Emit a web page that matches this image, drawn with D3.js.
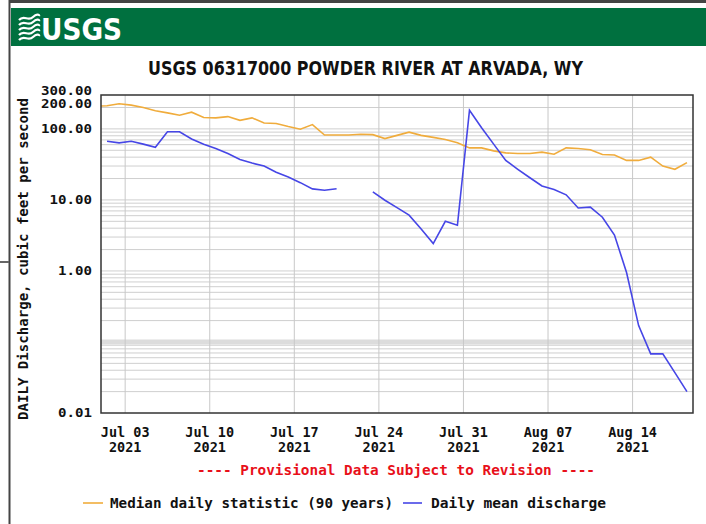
<!DOCTYPE html>
<html><head><meta charset="utf-8">
<script src="https://cdn.jsdelivr.net/npm/d3@7"></script>
<style>body{margin:0;background:#fff}svg{display:block}</style>
</head><body>
<svg id="c" width="706" height="524"></svg>
<script>
const dates = ["2021-06-30","2021-07-01","2021-07-02","2021-07-03","2021-07-04","2021-07-05","2021-07-06","2021-07-07","2021-07-08","2021-07-09","2021-07-10","2021-07-11","2021-07-12","2021-07-13","2021-07-14","2021-07-15","2021-07-16","2021-07-17","2021-07-18","2021-07-19","2021-07-20","2021-07-21","2021-07-22","2021-07-23","2021-07-24","2021-07-25","2021-07-26","2021-07-27","2021-07-28","2021-07-29","2021-07-30","2021-07-31","2021-08-01","2021-08-02","2021-08-03","2021-08-04","2021-08-05","2021-08-06","2021-08-07","2021-08-08","2021-08-09","2021-08-10","2021-08-11","2021-08-12","2021-08-13","2021-08-14","2021-08-15","2021-08-16","2021-08-17","2021-08-18"];
const medianValues = [208,212,226,216,200,180,168,156,172,145,143,149,132,143,121,119,108,99,115,82,82,82,84,83,73,81,90,81,76,71,64,54,54,49,46,45,45,47,44,54,53,51,43.5,43,36,36,40,30,27,33.5];
const dailyMeanValues = [null,67,63.5,67,61,55,91,91,72,61,53,45,37,33,30,24.5,21,17.5,14.3,13.7,14.4,null,null,13,9.9,7.8,6.1,3.9,2.43,5.0,4.4,183,104,61,36,27,20.5,15.7,14,11.8,7.7,7.9,5.7,3.2,0.95,0.17,0.068,0.068,0.037,0.02];
const xTickDates = ["2021-07-03","2021-07-10","2021-07-17","2021-07-24","2021-07-31","2021-08-07","2021-08-14"];
const xTickLabels = ["Jul 03","Jul 10","Jul 17","Jul 24","Jul 31","Aug 07","Aug 14"];
const yTickValues = [300,200,100,10,1,0.01];
const yTickLabels = ["300.00","200.00","100.00","10.00","1.00","0.01"];
const seriesNames = ["Median daily statistic (90 years)","Daily mean discharge"];

const svg = d3.select("#c");
const mono = "'DejaVu Sans Mono','Liberation Mono',monospace";
const orange = "#f0ac3c", blue = "#4646e6";
const parse = d3.timeParse("%Y-%m-%d");
const noon = s => d3.timeHour.offset(parse(s), 12);

const L=101, R=693, T=95, B=413;
const x = d3.scaleTime().domain([parse("2021-07-01"), parse("2021-08-19")]).range([L,R]);
const y = d3.scaleLog().domain([0.01,300]).range([B,T]);

// frame
svg.append("rect").attr("x",8).attr("y",0).attr("width",698).attr("height",524).attr("fill","#fff");
svg.append("line").attr("x1",9.5).attr("x2",9.5).attr("y1",0).attr("y2",524).attr("stroke","#444").attr("stroke-width",2);
svg.append("line").attr("x1",9).attr("x2",706).attr("y1",1.5).attr("y2",1.5).attr("stroke","#444").attr("stroke-width",3);
svg.append("line").attr("x1",0).attr("x2",9).attr("y1",262).attr("y2",262).attr("stroke","#666").attr("stroke-width",2);

// header
svg.append("rect").attr("x",11).attr("y",8).attr("width",695).attr("height",38).attr("fill","#00703f");
const logo = svg.append("g").attr("fill","none").attr("stroke","#fff").attr("stroke-width",2.2);
for (let i=0;i<5;i++){
  const yy = 17+i*5;
  logo.append("path").attr("d",`M19,${yy+3} C24,${yy-3} 28,${yy+5} 33,${yy} S38,${yy-1} 40,${yy-2}`);
}
svg.append("text").attr("x",41).attr("y",40).attr("fill","#fff")
  .style("font-family","'Liberation Sans Narrow','DejaVu Sans Condensed',Arial,sans-serif")
  .style("font-weight","bold").style("font-size","31px")
  .attr("textLength",81).attr("lengthAdjust","spacingAndGlyphs").text("USGS");

// title
svg.append("text").attr("x",148).attr("y",75)
  .style("font-family","'Liberation Sans Narrow','DejaVu Sans Condensed',Arial,sans-serif")
  .style("font-size","20px").style("font-weight","bold").attr("fill","#111")
  .attr("textLength",435).attr("lengthAdjust","spacingAndGlyphs")
  .text("USGS 06317000 POWDER RIVER AT ARVADA, WY");

// grid
const g = svg.append("g");
const minor = [];
[-2,-1,0,1,2].forEach(e=>{ for(let m=1;m<10;m++){ const v=m*Math.pow(10,e); if(v>0.01 && v<300) minor.push(v);} });
g.selectAll("line.h").data(minor).join("line")
  .attr("x1",L).attr("x2",R).attr("y1",d=>y(d)).attr("y2",d=>y(d))
  .attr("stroke", d=>Math.abs(d-0.1)<1e-9 ? "#dcdcdc" : "#cfcfcf")
  .attr("stroke-width", d=>Math.abs(d-0.1)<1e-9 ? 5 : 1);
g.selectAll("line.v").data(xTickDates).join("line")
  .attr("x1",d=>x(parse(d))).attr("x2",d=>x(parse(d))).attr("y1",T).attr("y2",B)
  .attr("stroke","#c8c8c8").attr("stroke-width",1);

// lines
svg.append("clipPath").attr("id","pc").append("rect").attr("x",L).attr("y",T).attr("width",R-L).attr("height",B-T);
const line = d3.line().defined(d=>d[1]!=null).x(d=>x(noon(d[0]))).y(d=>y(d[1]));
svg.append("path").attr("clip-path","url(#pc)").attr("d",line(dates.map((d,i)=>[d,medianValues[i]])))
  .attr("fill","none").attr("stroke",orange).attr("stroke-width",1.6);
svg.append("path").attr("clip-path","url(#pc)").attr("d",line(dates.map((d,i)=>[d,dailyMeanValues[i]])))
  .attr("fill","none").attr("stroke",blue).attr("stroke-width",1.6);

// border
svg.append("rect").attr("x",L).attr("y",T).attr("width",R-L).attr("height",B-T)
  .attr("fill","none").attr("stroke","#333").attr("stroke-width",1.5);

// y labels
const yl = svg.append("g").style("font-family",mono).style("font-weight","bold").style("font-size","12px").attr("fill","#111");
yl.selectAll("text").data(yTickValues).join("text")
  .attr("x",92).attr("y",(d,i)=>y(d) + (d===300? -4 : d===200 ? -4 : 0)).attr("dy","0.35em")
  .attr("text-anchor","end")
  .attr("textLength",(d,i)=>yTickLabels[i].length*8.5).attr("lengthAdjust","spacingAndGlyphs")
  .text((d,i)=>yTickLabels[i]);

// y title
svg.append("text").attr("transform","translate(28,259) rotate(-90)")
  .attr("text-anchor","middle").style("font-family",mono).style("font-weight","bold").style("font-size","13.5px").attr("fill","#111")
  .attr("textLength",322).attr("lengthAdjust","spacingAndGlyphs")
  .text("DAILY Discharge, cubic feet per second");

// x labels
const xl = svg.append("g").style("font-family",mono).style("font-weight","bold").style("font-size","13.5px").attr("fill","#111");
xTickDates.forEach((d,i)=>{
  const xx = x(parse(d));
  xl.append("text").attr("x",xx).attr("y",437).attr("text-anchor","middle").text(xTickLabels[i]);
  xl.append("text").attr("x",xx).attr("y",452).attr("text-anchor","middle").text("2021");
});

// provisional
svg.append("text").attr("x",197).attr("y",475).attr("fill","#e8101a")
  .style("font-family",mono).style("font-size","13.5px").style("font-weight","bold")
  .attr("textLength",398).attr("lengthAdjust","spacingAndGlyphs")
  .text("---- Provisional Data Subject to Revision ----");

// legend
const lg = svg.append("g").style("font-family",mono).style("font-size","13.5px").style("font-weight","bold").attr("fill","#111");
lg.append("line").attr("x1",83).attr("x2",103).attr("y1",503).attr("y2",503).attr("stroke",orange).attr("stroke-width",1.6);
lg.append("text").attr("x",110).attr("y",508).attr("textLength",283).attr("lengthAdjust","spacingAndGlyphs").text(seriesNames[0]);
lg.append("line").attr("x1",403).attr("x2",422).attr("y1",503).attr("y2",503).attr("stroke",blue).attr("stroke-width",1.6);
lg.append("text").attr("x",431).attr("y",508).attr("textLength",175).attr("lengthAdjust","spacingAndGlyphs").text(seriesNames[1]);
</script>
</body></html>
